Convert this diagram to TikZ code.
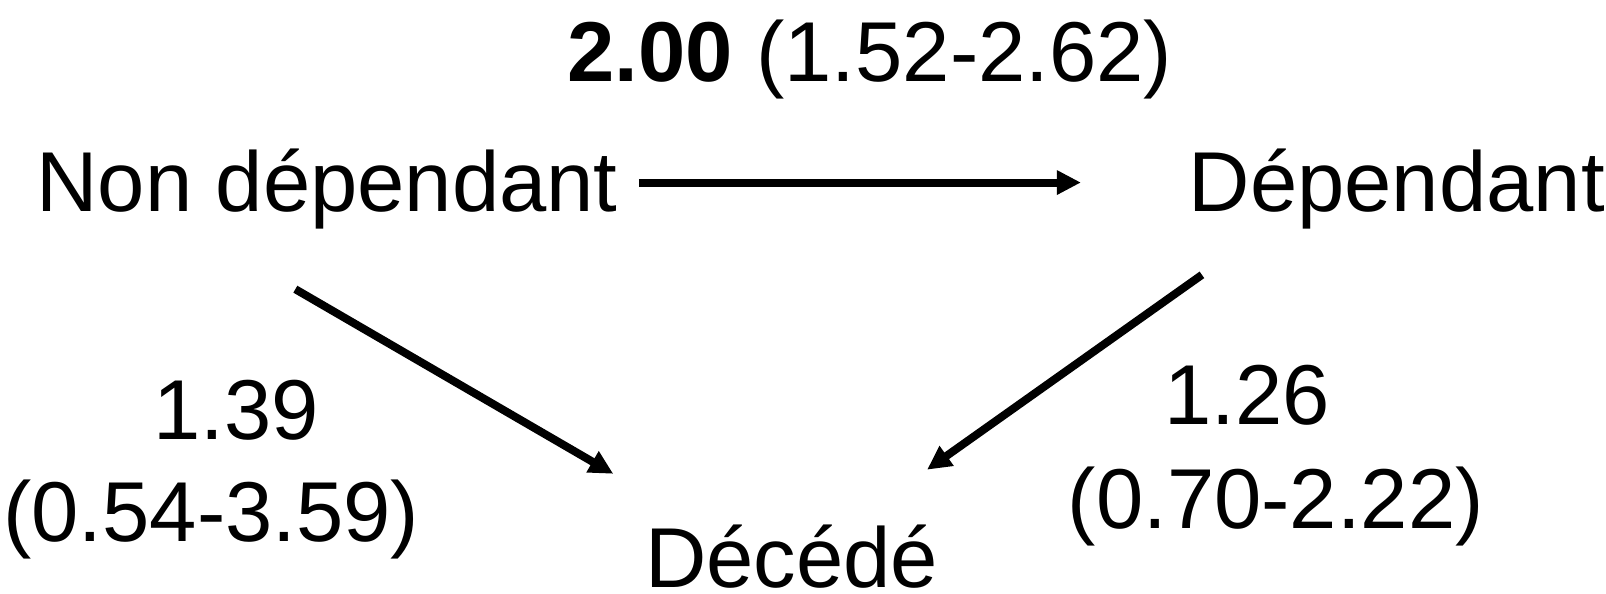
\documentclass[tikz,border=0pt]{standalone}
\usepackage{fontspec}
\setmainfont{Liberation Sans}
\usetikzlibrary{positioning, arrows.meta}

\begin{document}
\begin{tikzpicture}[x=0.5128pt, y=-0.5128pt, >={Triangle[length=12pt, width=11.5pt]},
    lbl/.style={anchor=base, inner sep=0pt, font=\fontsize{42.5}{50}\selectfont},
    trans/.style={->, line width=4pt}]
      \useasboundingbox (0,0) rectangle (1566,579);

      % states
      \node[lbl] (nondep) at (319,206) {Non dépendant};
      \node[lbl] (dep) at (1362,206) {Dépendant};
      \node[lbl] (dead) at (772,573) {Décédé};

      % hazard ratios
      \node[lbl] (hrtop) at (848,79) {\textbf{2.00} (1.52-2.62)};
      \node[lbl] (hrleft) at (230,429) {1.39};
      \node[lbl] (cileft) at (206,528) {(0.54-3.59)};
      \node[lbl] (hrright) at (1216,414) {1.26};
      \node[lbl] (ciright) at (1244,515) {(0.70-2.22)};

      % arrow ends
      \coordinate (nd-out) at (623,178);
      \coordinate (d-in) at (1054,178);
      \coordinate (nd-down) at (288,282);
      \coordinate (dead-l) at (598,462);
      \coordinate (d-down) at (1172,268);
      \coordinate (dead-r) at (904,458);

      \path[trans]
        (nd-out) edge (d-in)
        (nd-down) edge (dead-l)
        (d-down) edge (dead-r)
      ;
    \end{tikzpicture}
\end{document}
